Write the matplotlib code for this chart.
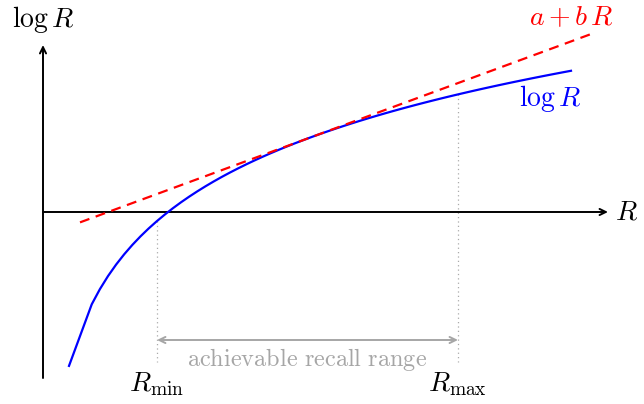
import numpy as np
import matplotlib
matplotlib.use("Agg")
import matplotlib.pyplot as plt

plt.rcParams["mathtext.fontset"] = "cm"
plt.rcParams["font.family"] = "serif"
plt.rcParams["font.serif"] = ["DejaVu Serif"]

# Recall domain for the log curve (coarse first step, then fine)
R_start = 0.208
R_domain = (0.39, 4.224)
# Linear approximation a + b R (tangent to log R)
b_coef = 0.47
a_coef = -0.245
line_R = [0.296, 4.416]
# Achievable recall range
R_min = 0.912
R_max = 3.32
# Axis extents
x_axis_end = 4.52
y_axis_bottom = -1.694
y_axis_top = 1.704

fig = plt.figure(figsize=(6.44, 4.04), dpi=100)
ax = fig.add_axes([0, 0, 1, 1])
ax.set_xlim(-0.344, 4.808)
ax.set_ylim(-1.959, 2.163)
ax.axis("off")

# Axes with arrow heads
arrow_kw = dict(arrowstyle="->,head_length=0.45,head_width=0.22", color="black", lw=1.4,
                shrinkA=0, shrinkB=0)
ax.annotate("", xy=(x_axis_end, 0), xytext=(0, 0), arrowprops=arrow_kw)
ax.annotate("", xy=(0, y_axis_top), xytext=(0, y_axis_bottom), arrowprops=arrow_kw)
ax.text(x_axis_end + 0.06, 0, r"$R$", fontsize=20, va="center", ha="left")
ax.text(0, 1.96, r"$\log R$", fontsize=20, va="center", ha="center")

# Curves
R_arr = np.concatenate([[R_start], np.linspace(R_domain[0], R_domain[1], 60)])
ax.plot(R_arr, np.log(R_arr), color="blue", lw=1.6, zorder=3)
L = np.array(line_R)
ax.plot(L, a_coef + b_coef * L, color="red", lw=1.6, ls=(0, (4.5, 3)), zorder=4)
ax.text(4.056, 1.16, r"$\log R$", color="blue", fontsize=20, ha="center", va="center")
ax.text(4.224, 1.98, r"$a + b\,R$", color="red", fontsize=20, ha="center", va="center")

# Achievable recall range markers
for r in (R_min, R_max):
    ax.plot([r, r], [np.log(r), -1.53], color="#aaaaaa", lw=0.9, ls=(0, (1, 2.5)), zorder=1)
ax.annotate("", xy=(R_max, -1.306), xytext=(R_min, -1.306),
            arrowprops=dict(arrowstyle="<->,head_length=0.45,head_width=0.22",
                            color="#a6a6a6", lw=1.4, shrinkA=0, shrinkB=0))
ax.text((R_min + R_max) / 2, -1.50, r"$\mathrm{achievable\ recall\ range}$",
        color="#a6a6a6", fontsize=17.5, ha="center", va="center")
ax.text(R_min, -1.76, r"$R_{\min}$", fontsize=20, ha="center", va="center")
ax.text(R_max, -1.76, r"$R_{\max}$", fontsize=20, ha="center", va="center")

fig.savefig("out.png", dpi=100)
